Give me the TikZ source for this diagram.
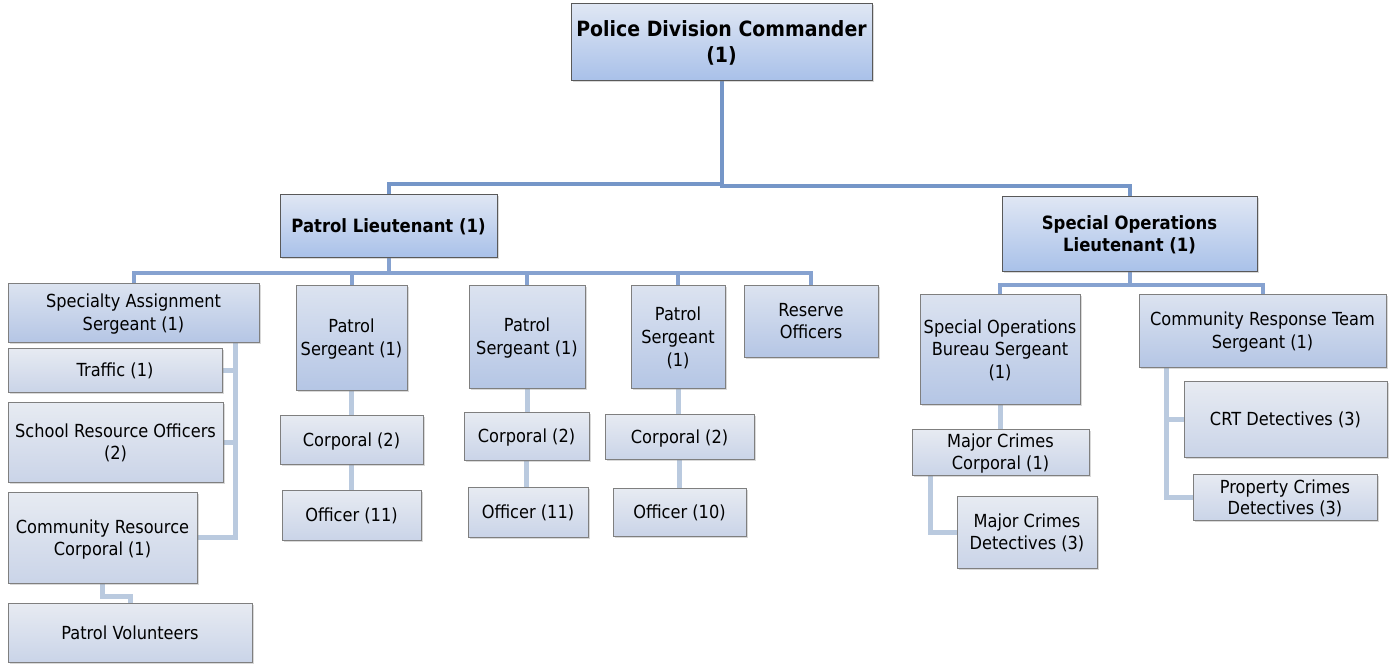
\documentclass[tikz,border=0pt]{standalone}
\usepackage{fontspec}
\setmainfont{DejaVu Sans}[FakeStretch=0.9]
\usetikzlibrary{shadows,backgrounds}

% palette
\definecolor{linkA}{HTML}{7596C8}
\definecolor{linkB}{HTML}{86A2D0}
\definecolor{linkC}{HTML}{BACADF}
\definecolor{topA}{HTML}{E0E7F4}
\definecolor{botA}{HTML}{A9C1E9}
\definecolor{topB}{HTML}{DCE3F0}
\definecolor{botB}{HTML}{B5C6E5}
\definecolor{topC}{HTML}{E7EBF2}
\definecolor{botC}{HTML}{CAD4E8}
\definecolor{edgegray}{HTML}{7F7F7F}

\tikzset{
  orgbox/.style={draw=edgegray, line width=0.9pt, inner sep=0pt, align=center,
    drop shadow={shadow xshift=1.5pt, shadow yshift=-1.8pt, opacity=0.3},
    % a fixed depth keeps every label sitting a little below the middle
    text depth=-1.7pt},
  chief/.style={orgbox, top color=topA, bottom color=botA, draw=black!65,
    font=\bfseries\fontsize{21}{26}\selectfont, text depth=-5pt},
  lieut/.style={orgbox, top color=topA, bottom color=botA, draw=black!65,
    font=\bfseries\fontsize{18.3}{22}\selectfont, text depth=-2pt},
  sgt/.style={orgbox, top color=topB, bottom color=botB,
    font=\fontsize{18}{22.7}\selectfont},
  unit/.style={orgbox, top color=topC, bottom color=botC,
    font=\fontsize{18}{22}\selectfont},
  topline/.style={draw=linkA, line width=4pt},
  midline/.style={draw=linkB, line width=4pt},
  lowline/.style={draw=linkC, line width=5pt},
}

\begin{document}
\begin{tikzpicture}[x=1pt, y=-1pt]
\useasboundingbox (0,0) rectangle (1392,664);

% command level
\node[chief, minimum width=301, minimum height=77] (cmd) at (721.5,41.5) {Police Division Commander\\(1)};
\node[lieut, minimum width=217, minimum height=63] (plt) at (388.5,225.5) {Patrol Lieutenant (1)};
\node[lieut, minimum width=255, minimum height=75] (slt) at (1129.5,233.5) {Special Operations\\Lieutenant (1)};

% patrol side
\node[sgt, minimum width=251, minimum height=59] (sas) at (133.5,312.5) {Specialty Assignment\\Sergeant (1)};
\node[unit, minimum width=214, minimum height=44] (trf) at (115,370) {Traffic (1)};
\node[unit, minimum width=215, minimum height=80] (sro) at (115.5,442) {School Resource Officers\\(2)};
\node[unit, minimum width=189, minimum height=91] (crc) at (102.5,537.5) {Community Resource\\Corporal (1)};
\node[unit, minimum width=244, minimum height=59] (pv) at (130,632.5) {Patrol Volunteers};

\node[sgt, minimum width=111, minimum height=105] (ps1) at (351.5,337.5) {Patrol\\Sergeant (1)};
\node[unit, minimum width=143, minimum height=49] (cp1) at (351.5,439.5) {Corporal (2)};
\node[unit, minimum width=139, minimum height=50] (of1) at (351.5,515) {Officer (11)};

\node[sgt, minimum width=116, minimum height=103] (ps2) at (527,336.5) {Patrol\\Sergeant (1)};
\node[unit, minimum width=125, minimum height=48] (cp2) at (526.5,436) {Corporal (2)};
\node[unit, minimum width=120, minimum height=50] (of2) at (528,512) {Officer (11)};

\node[sgt, minimum width=94, minimum height=103] (ps3) at (678,336.5) {Patrol\\Sergeant\\(1)};
\node[unit, minimum width=149, minimum height=45] (cp3) at (679.5,436.5) {Corporal (2)};
\node[unit, minimum width=133, minimum height=48] (of3) at (679.5,512) {Officer (10)};

\node[sgt, minimum width=134, minimum height=72] (ro) at (811,321) {Reserve\\Officers};

% special operations side
\node[sgt, minimum width=160, minimum height=110] (sob) at (1000,349) {Special Operations\\Bureau Sergeant\\(1)};
\node[unit, minimum width=177, minimum height=46] (mcc) at (1000.5,452) {Major Crimes\\Corporal (1)};
\node[unit, minimum width=140, minimum height=72] (mcd) at (1027,532) {Major Crimes\\Detectives (3)};

\node[sgt, minimum width=247, minimum height=73] (crs) at (1262.5,330.5) {Community Response Team\\Sergeant (1)};
\node[unit, minimum width=203, minimum height=76] (crt) at (1285.5,419) {CRT Detectives (3)};
\node[unit, minimum width=184, minimum height=46, font=\fontsize{18}{20.5}\selectfont] (pcd) at (1285,497) {Property Crimes\\Detectives (3)};

% bus heights and side trunks
\coordinate (busL) at (0,184);
\coordinate (busR) at (0,186);
\coordinate (busP) at (0,273);
\coordinate (busS) at (0,285);
\coordinate (sasx) at (235,0);
\coordinate (mcx) at (930,0);
\coordinate (crsx) at (1166,0);

\begin{pgfonlayer}{background}
  \draw[topline] (cmd.south) |- (plt.north |- busL) -- (plt.north);
  \draw[topline] (cmd.south) |- (slt.north |- busR) -- (slt.north);

  \foreach \n in {sas,ps1,ps2,ps3,ro}
    \draw[midline] (plt.south) |- (\n.north |- busP) -- (\n.north);
  \foreach \n in {sob,crs}
    \draw[midline] (slt.south) |- (\n.north |- busS) -- (\n.north);

  \draw[lowline] (sas.south -| sasx) |- (crc.east);
  \draw[lowline] (trf.east) -- (trf.east -| sasx);
  \draw[lowline] (sro.east) -- (sro.east -| sasx);
  \draw[lowline] (crc.south) -- ++(0,13) -| (pv.north);

  \draw[lowline] (ps1.south) -- (ps1.south |- cp1.north);
  \draw[lowline] (cp1.south) -- (cp1.south |- of1.north);
  \draw[lowline] (ps2.south) -- (ps2.south |- cp2.north);
  \draw[lowline] (cp2.south) -- (cp2.south |- of2.north);
  \draw[lowline] (ps3.south) -- (ps3.south |- cp3.north);
  \draw[lowline] (cp3.south) -- (cp3.south |- of3.north);

  \draw[lowline] (sob.south) -- (sob.south |- mcc.north);
  \draw[lowline] (mcc.south -| mcx) |- (mcd.west);
  \draw[lowline] (crs.south -| crsx) |- (pcd.west);
  \draw[lowline] (crt.west -| crsx) -- (crt.west);
\end{pgfonlayer}
\end{tikzpicture}
\end{document}
